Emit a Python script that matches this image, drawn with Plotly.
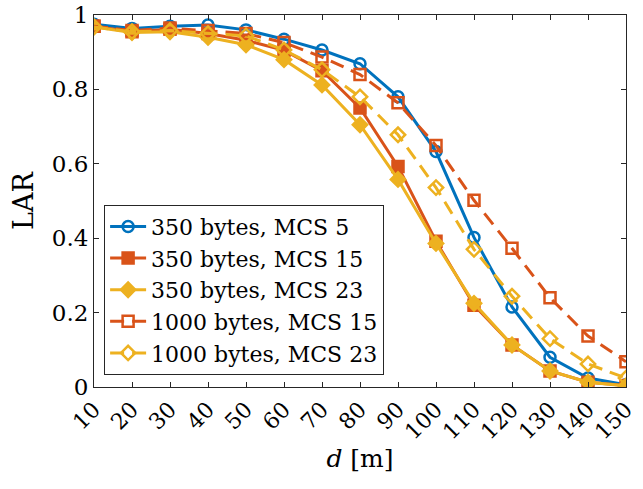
import plotly.graph_objects as go

d = [10, 20, 30, 40, 50, 60, 70, 80, 90, 100, 110, 120, 130, 140, 150]
lar_350_mcs5 = [0.975, 0.964, 0.970, 0.973, 0.960, 0.935, 0.906, 0.869, 0.780, 0.633, 0.402, 0.215, 0.080, 0.024, 0.006]
lar_350_mcs15 = [0.970, 0.955, 0.962, 0.950, 0.932, 0.905, 0.850, 0.750, 0.593, 0.392, 0.220, 0.113, 0.043, 0.013, 0.004]
lar_350_mcs23 = [0.968, 0.953, 0.955, 0.940, 0.920, 0.880, 0.812, 0.705, 0.558, 0.386, 0.225, 0.113, 0.043, 0.013, 0.003]
lar_1000_mcs15 = [0.970, 0.958, 0.965, 0.958, 0.950, 0.926, 0.887, 0.840, 0.764, 0.649, 0.502, 0.373, 0.240, 0.137, 0.068]
lar_1000_mcs23 = [0.968, 0.955, 0.958, 0.950, 0.944, 0.906, 0.853, 0.780, 0.678, 0.536, 0.370, 0.244, 0.130, 0.062, 0.024]

names = ["350 bytes, MCS 5", "350 bytes, MCS 15", "350 bytes, MCS 23",
         "1000 bytes, MCS 15", "1000 bytes, MCS 23"]
series = [lar_350_mcs5, lar_350_mcs15, lar_350_mcs23, lar_1000_mcs15, lar_1000_mcs23]
colors = ["#0072BD", "#D95319", "#EDB120", "#D95319", "#EDB120"]
symbols = ["circle-open", "square", "diamond", "square-open", "diamond-open"]
dashes = ["solid", "solid", "solid", "14px,8px", "14px,8px"]

fig = go.Figure()
for n, s, c, sym, dsh in zip(names, series, colors, symbols, dashes):
    fig.add_trace(go.Scatter(
        x=d, y=s, name=n, mode="lines+markers",
        line=dict(color=c, width=3, dash=dsh),
        marker=dict(symbol=sym, size=11, color=c, line=dict(color=c, width=2.5)),
    ))

font_family = "DejaVu Serif"
fig.update_layout(
    width=643, height=489,
    margin=dict(l=94, r=17, t=15, b=102),
    plot_bgcolor="white", paper_bgcolor="white",
    font=dict(family=font_family, size=22, color="black"),
    legend=dict(
        x=0.019, y=0.49, xanchor="left", yanchor="top",
        bgcolor="white", bordercolor="#262626", borderwidth=1,
        font=dict(family=font_family, size=22, color="black"),
        tracegroupgap=0, itemwidth=36,
    ),
    showlegend=True,
)
fig.update_xaxes(
    range=[10, 150], tickvals=d, ticktext=[str(v) for v in d],
    tickangle=-45, ticks="inside", ticklen=5, tickcolor="#262626",
    showline=True, linecolor="#262626", linewidth=1, mirror="ticks",
    showgrid=False, zeroline=False, automargin=False,
    tickfont=dict(family=font_family, size=22),
    title=dict(text="<i>d</i> [m]", font=dict(family=font_family, size=25), standoff=6),
)
fig.update_yaxes(
    range=[0, 1], tickvals=[0, 0.2, 0.4, 0.6, 0.8, 1],
    ticktext=["0", "0.2", "0.4", "0.6", "0.8", "1"],
    ticks="inside", ticklen=5, tickcolor="#262626",
    showline=True, linecolor="#262626", linewidth=1, mirror="ticks",
    showgrid=False, zeroline=False, automargin=False,
    tickfont=dict(family=font_family, size=23),
    title=dict(text="LAR", font=dict(family=font_family, size=27), standoff=10),
)

fig.write_html("out.html", config={"displayModeBar": False},
               post_script="document.body.style.margin='0';")
